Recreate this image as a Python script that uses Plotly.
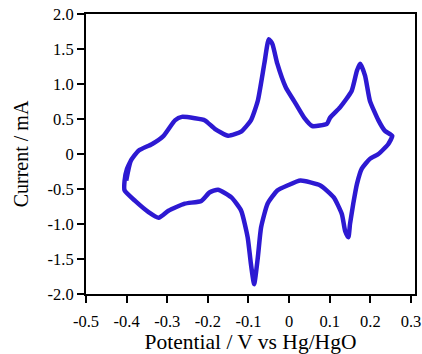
import plotly.graph_objects as go

# Cyclic voltammogram (potential V, current mA)
potential = [-0.401, -0.39, -0.37, -0.338, -0.309, -0.281, -0.264, -0.232, -0.207, -0.183,
             -0.150, -0.118, -0.094, -0.077, -0.061, -0.050, -0.041, -0.029, -0.008, 0.012,
             0.037, 0.057, 0.093, 0.101, 0.126, 0.154, 0.167, 0.175, 0.187, 0.199,
             0.220, 0.236, 0.254, 0.244, 0.220, 0.199, 0.179, 0.167, 0.158, 0.150,
             0.146, 0.138, 0.130, 0.110, 0.077, 0.028, -0.004, -0.029, -0.053, -0.069,
             -0.077, -0.086, -0.094, -0.102, -0.118, -0.142, -0.175, -0.196, -0.216, -0.257,
             -0.297, -0.321, -0.346, -0.379, -0.405, -0.405, -0.399, -0.39]
current = [-0.38, -0.10, 0.05, 0.14, 0.26, 0.48, 0.53, 0.51, 0.48, 0.36,
           0.26, 0.32, 0.48, 0.76, 1.29, 1.64, 1.57, 1.29, 0.95, 0.76,
           0.52, 0.40, 0.43, 0.52, 0.67, 0.90, 1.19, 1.29, 1.12, 0.76,
           0.48, 0.33, 0.26, 0.14, 0.0, -0.07, -0.21, -0.43, -0.71, -1.0,
           -1.19, -1.10, -0.86, -0.62, -0.45, -0.38, -0.45, -0.52, -0.71, -1.05,
           -1.48, -1.86, -1.57, -1.19, -0.81, -0.62, -0.51, -0.55, -0.67, -0.71,
           -0.81, -0.91, -0.83, -0.67, -0.52, -0.38, -0.21, -0.10]

x_tickvals = [-0.5, -0.4, -0.3, -0.2, -0.1, 0, 0.1, 0.2, 0.3]
x_ticktext = ["-0.5", "-0.4", "-0.3", "-0.2", "-0.1", "0", "0.1", "0.2", "0.3"]
y_tickvals = [2.0, 1.5, 1.0, 0.5, 0, -0.5, -1.0, -1.5, -2.0]
y_ticktext = ["2.0", "1.5", "1.0", "0.5", "0", "-0.5", "-1.0", "-1.5", "-2.0"]

fig = go.Figure()
fig.add_trace(go.Scatter(
    x=potential, y=current, mode="lines",
    line=dict(color="rgb(45,25,210)", width=4.5, shape="spline", smoothing=0.5),
    hoverinfo="skip", showlegend=False,
))

font_family = '"Liberation Serif", "Times New Roman", "DejaVu Serif", serif'
fig.update_layout(
    width=422, height=354,
    margin=dict(l=86, r=7, t=14, b=60, autoexpand=False),
    paper_bgcolor="white", plot_bgcolor="white",
    font=dict(family=font_family, color="black", size=16),
    xaxis=dict(
        range=[-0.5, 0.31], tickvals=x_tickvals, ticktext=x_ticktext,
        ticks="outside", ticklen=7, tickwidth=2, tickcolor="black",
        showline=True, linewidth=2, linecolor="black", mirror=True,
        showgrid=False, zeroline=False, automargin=False,
        ticklabeloverflow="allow", ticklabelstandoff=4,
        tickfont=dict(size=16.5, family=font_family),
        title=dict(text="Potential / V vs Hg/HgO", font=dict(size=21.5, family=font_family), standoff=6),
    ),
    yaxis=dict(
        range=[-2.0, 2.0], tickvals=y_tickvals, ticktext=y_ticktext,
        ticks="outside", ticklen=7, tickwidth=2, tickcolor="black",
        showline=True, linewidth=2, linecolor="black", mirror=True,
        showgrid=False, zeroline=False, automargin=False,
        ticklabeloverflow="allow",
        tickfont=dict(size=16.5, family=font_family),
        title=dict(text="Current / mA", font=dict(size=20, family=font_family), standoff=14),
    ),
)

fig.write_html("out.html", config={"displayModeBar": False},
               post_script="document.body.style.margin='0px';")
